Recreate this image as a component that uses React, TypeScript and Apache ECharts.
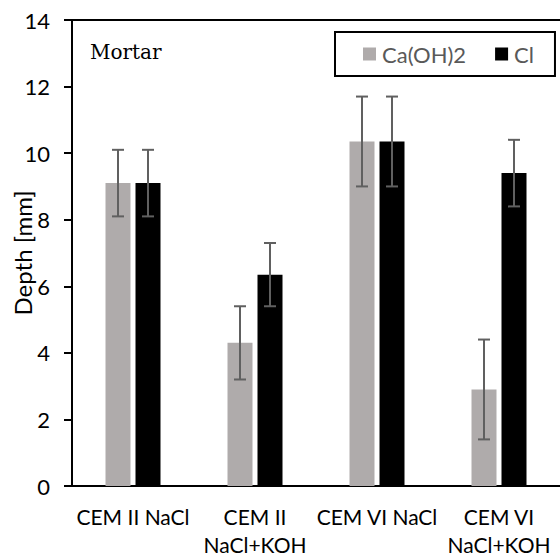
import React, { useEffect, useRef } from "react";
import * as echarts from "echarts";

const categories = ["CEM II NaCl", "CEM II\nNaCl+KOH", "CEM VI NaCl", "CEM VI\nNaCl+KOH"];
const caohValues = [9.1, 4.3, 10.35, 2.9];
const caohErrors = [1.0, 1.1, 1.35, 1.5];
const clValues = [9.1, 6.35, 10.35, 9.4];
const clErrors = [1.0, 0.95, 1.35, 1.0];
const seriesNames = ["Ca(OH)2", "Cl"];
const yTicks = { min: 0, max: 14, interval: 2 };

const FONT = "Lato";

function errorSeries(values: number[], errors: number[], offset: number) {
  return {
    type: "custom",
    silent: true,
    z: 5,
    data: values.map((v, i) => [i, v - errors[i], v + errors[i]]),
    encode: { x: 0, y: [1, 2] },
    renderItem: (params: any, api: any) => {
      const idx = api.value(0);
      const lo = api.coord([idx, api.value(1)]);
      const hi = api.coord([idx, api.value(2)]);
      const x = lo[0] + offset;
      const cap = 6;
      const style = { stroke: "#606060", lineWidth: 2, fill: "none" };
      return {
        type: "group",
        children: [
          { type: "line", shape: { x1: x, y1: lo[1], x2: x, y2: hi[1] }, style },
          { type: "line", shape: { x1: x - cap, y1: lo[1], x2: x + cap, y2: lo[1] }, style },
          { type: "line", shape: { x1: x - cap, y1: hi[1], x2: x + cap, y2: hi[1] }, style },
        ],
      };
    },
  };
}

export default function App() {
  const ref = useRef<HTMLDivElement>(null);
  useEffect(() => {
    if (!ref.current) return;
    const chart = echarts.init(ref.current, undefined, { renderer: "svg" });
    chart.setOption({
      animation: false,
      textStyle: { fontFamily: FONT },
      grid: { left: 72, right: 0, top: 20, bottom: 73, containLabel: false, outerBoundsMode: "none" },
      legend: {
        data: seriesNames,
        left: 335,
        top: 32,
        width: 218,
        orient: "horizontal",
        padding: [11, 21, 11, 28],
        itemGap: 29,
        itemWidth: 13,
        itemHeight: 13,
        borderColor: "#000000",
        borderWidth: 2,
        icon: "rect",
        textStyle: { fontFamily: FONT, fontSize: 22, color: "#595959", padding: [0, 0, 0, 1] },
      },
      graphic: [
        {
          type: "text",
          left: 90,
          top: 42,
          style: { text: "Mortar", font: "20px 'DejaVu Serif'", fontSize: 20, fontFamily: "DejaVu Serif", fill: "#000000" },
        },
      ],
      xAxis: [
        {
          type: "category",
          data: categories,
          position: "bottom",
          axisLine: { lineStyle: { color: "#000000", width: 2 } },
          axisTick: { show: false },
          axisLabel: {
            color: "#000000",
            fontFamily: FONT,
            fontSize: 21,
            lineHeight: 28,
            margin: 16,
            interval: 0,
          },
        },
        {
          type: "category",
          data: categories,
          position: "top",
          axisLine: { lineStyle: { color: "#000000", width: 2 } },
          axisTick: { show: false },
          axisLabel: { show: false },
        },
      ],
      yAxis: {
        type: "value",
        min: yTicks.min,
        max: yTicks.max,
        interval: yTicks.interval,
        name: "Depth [mm]",
        nameLocation: "middle",
        nameGap: 38,
        nameMoveOverlap: false,
        nameTextStyle: { fontFamily: FONT, fontSize: 24, color: "#000000" },
        axisLine: { show: true, lineStyle: { color: "#000000", width: 2 } },
        axisTick: { show: true, inside: false, length: 8, lineStyle: { color: "#000000", width: 2 } },
        axisLabel: { color: "#000000", fontFamily: FONT, fontSize: 22, margin: 22 },
        splitLine: { show: false },
      },
      series: [
        {
          name: seriesNames[0],
          type: "bar",
          data: caohValues,
          barWidth: 25,
          barGap: "20%",
          itemStyle: { color: "#AFABAB" },
        },
        {
          name: seriesNames[1],
          type: "bar",
          data: clValues,
          barWidth: 25,
          barGap: "20%",
          itemStyle: { color: "#000000" },
        },
        errorSeries(caohValues, caohErrors, -15),
        errorSeries(clValues, clErrors, 15),
      ],
    });
    return () => chart.dispose();
  }, []);
  return (
    <div
      ref={ref}
      style={{ position: "fixed", left: 0, top: 0, width: 560, height: 559, background: "#ffffff" }}
    />
  );
}
